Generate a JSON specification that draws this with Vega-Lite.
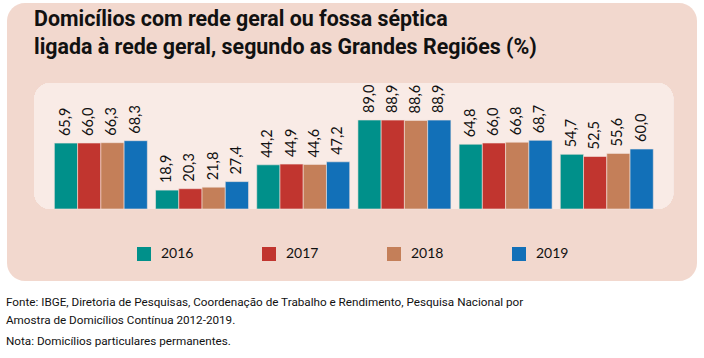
{
  "$schema": "https://vega.github.io/schema/vega-lite/v6.json",
  "background": "white",
  "padding": {"left": 6, "top": 3, "right": 0, "bottom": 0},
  "config": {
    "locale": {"number": {"decimal": ",", "thousands": ".", "grouping": [3], "currency": ["R$", ""]}},
    "font": "Lato"
  },
  "title": {
    "text": ["Fonte: IBGE, Diretoria de Pesquisas, Coordenação de Trabalho e Rendimento, Pesquisa Nacional por", "Amostra de Domicílios Contínua 2012-2019."],
    "subtitle": "Nota: Domicílios particulares permanentes.",
    "orient": "bottom",
    "anchor": "start",
    "frame": "bounds",
    "font": "Roboto",
    "fontSize": 11.7,
    "fontWeight": "normal",
    "color": "#111111",
    "lineHeight": 18,
    "subtitleFont": "Roboto",
    "subtitleFontSize": 11.7,
    "subtitleColor": "#111111",
    "subtitlePadding": 9,
    "offset": 16,
    "dx": -1
  },
  "vconcat": [
    {
      "width": 690,
      "height": 278,
      "view": {"fill": "#f2d8ce", "stroke": null, "cornerRadius": 18},
      "title": {
        "text": ["Domicílios com rede geral ou fossa séptica", "ligada à rede geral, segundo as Grandes Regiões (%)"],
        "orient": "top",
        "anchor": "start",
        "frame": "group",
        "baseline": "bottom",
        "offset": -76,
        "dx": 27,
        "font": "Roboto",
        "fontSize": 21.4,
        "fontWeight": "bold",
        "lineHeight": 28,
        "color": "#111111"
      },
      "data": {
        "values": [
          {"regiao": "Brasil", "ano": "2016", "valor": 65.9},
          {"regiao": "Brasil", "ano": "2017", "valor": 66.0},
          {"regiao": "Brasil", "ano": "2018", "valor": 66.3},
          {"regiao": "Brasil", "ano": "2019", "valor": 68.3},
          {"regiao": "Norte", "ano": "2016", "valor": 18.9},
          {"regiao": "Norte", "ano": "2017", "valor": 20.3},
          {"regiao": "Norte", "ano": "2018", "valor": 21.8},
          {"regiao": "Norte", "ano": "2019", "valor": 27.4},
          {"regiao": "Nordeste", "ano": "2016", "valor": 44.2},
          {"regiao": "Nordeste", "ano": "2017", "valor": 44.9},
          {"regiao": "Nordeste", "ano": "2018", "valor": 44.6},
          {"regiao": "Nordeste", "ano": "2019", "valor": 47.2},
          {"regiao": "Sudeste", "ano": "2016", "valor": 89.0},
          {"regiao": "Sudeste", "ano": "2017", "valor": 88.9},
          {"regiao": "Sudeste", "ano": "2018", "valor": 88.6},
          {"regiao": "Sudeste", "ano": "2019", "valor": 88.9},
          {"regiao": "Sul", "ano": "2016", "valor": 64.8},
          {"regiao": "Sul", "ano": "2017", "valor": 66.0},
          {"regiao": "Sul", "ano": "2018", "valor": 66.8},
          {"regiao": "Sul", "ano": "2019", "valor": 68.7},
          {"regiao": "Centro-Oeste", "ano": "2016", "valor": 54.7},
          {"regiao": "Centro-Oeste", "ano": "2017", "valor": 52.5},
          {"regiao": "Centro-Oeste", "ano": "2018", "valor": 55.6},
          {"regiao": "Centro-Oeste", "ano": "2019", "valor": 60.0}
        ]
      },
      "layer": [
        {
          "mark": {"type": "rect", "fill": "#f9ebe6", "cornerRadius": 16, "xOffset": -20, "x2Offset": 20},
          "encoding": {
            "x": {"datum": "Brasil", "bandPosition": 0, "type": "nominal", "axis": null},
            "x2": {"datum": "Centro-Oeste", "bandPosition": 1},
            "y": {"datum": 0, "type": "quantitative", "axis": null},
            "y2": {"datum": 126}
          }
        },
        {
          "mark": {"type": "bar", "stroke": "#f4e2db", "strokeWidth": 0.6},
          "encoding": {
            "x": {
              "field": "regiao", "type": "nominal",
              "scale": {"domain": ["Brasil", "Norte", "Nordeste", "Sudeste", "Sul", "Centro-Oeste"], "paddingInner": 0.081, "align": 0.52, "paddingOuter": 0.45},
              "axis": {"title": null, "orient": "bottom", "offset": -62, "domain": false, "ticks": false, "labelPadding": 0, "labelAngle": 0, "labelFontSize": 14, "labelFontWeight": 500, "labelFont": "Lato", "labelColor": "#111111"}
            },
            "xOffset": {"field": "ano", "type": "nominal", "scale": {"paddingInner": 0, "paddingOuter": 0}},
            "y": {"field": "valor", "type": "quantitative", "scale": {"domain": [-72, 206], "nice": false, "zero": false}, "axis": null},
            "color": {
              "field": "ano", "type": "nominal",
              "scale": {"domain": ["2016", "2017", "2018", "2019"], "range": ["#00908a", "#c1352f", "#c47f59", "#1270b8"]},
              "legend": {
                "title": null, "orient": "none", "direction": "horizontal", "legendX": 130, "legendY": 244,
                "symbolType": "square", "symbolSize": 196, "symbolStrokeWidth": 0, "symbolOpacity": 1,
                "labelFontSize": 14, "labelFont": "Lato", "labelColor": "#111111", "labelOffset": 10, "columnPadding": 68
              }
            }
          }
        },
        {
          "mark": {"type": "text", "angle": 270, "align": "left", "baseline": "middle", "dx": 7, "fontSize": 14.5, "font": "Lato", "color": "#111111"},
          "encoding": {
            "x": {"field": "regiao", "type": "nominal"},
            "xOffset": {"field": "ano", "type": "nominal"},
            "y": {"field": "valor", "type": "quantitative"},
            "text": {"field": "valor", "type": "quantitative", "format": ".1f"}
          }
        }
      ]
    }
  ]
}
